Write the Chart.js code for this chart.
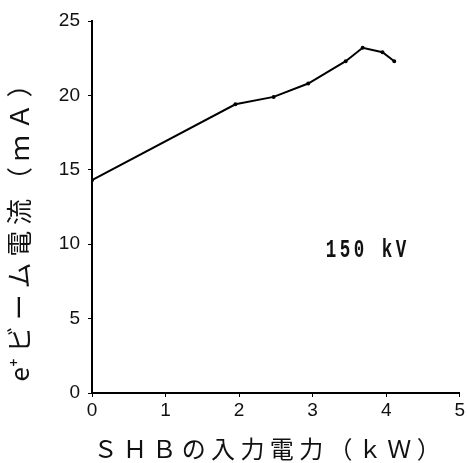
<!DOCTYPE html>
<html>
<head>
<meta charset="utf-8">
<script src="https://cdn.jsdelivr.net/npm/chart.js@4/dist/chart.umd.min.js"></script>
<style>
  html, body { margin: 0; padding: 0; background: #fff; }
  #wrap { width: 467px; height: 463px; }
</style>
</head>
<body>
<div id="wrap"><canvas id="chart" width="467" height="463"></canvas></div>
<script>
// SHB input power (kW) vs e+ beam current (mA)
const powerKW = [0, 1.95, 2.47, 2.94, 3.45, 3.68, 3.95, 4.11];
const beamMA = [14.3, 19.4, 19.9, 20.8, 22.3, 23.2, 22.9, 22.3];
const xTicks = [0, 1, 2, 3, 4, 5];
const yTicks = [0, 5, 10, 15, 20, 25];
// trailing blanks push the titles off-centre like the original
const xTitle = 'Ｓ Ｈ Ｂ の 入 力 電 力 （ ｋ Ｗ ）　 ';
const yTitle = 'e⁺ ビ ー ム 電 流 （ ｍ Ａ ）　　';
const noteText = '150 kV';
const notePos = { x: 3.75, y: 9.55 };

const points = powerKW.map((x, i) => ({ x: x, y: beamMA[i] }));

// draws the "150 kV" note through the scales
const notePlugin = {
    id: 'note',
    afterDatasetsDraw(chart) {
        const ctx = chart.ctx;
        const px = chart.scales.x.getPixelForValue(notePos.x);
        const py = chart.scales.y.getPixelForValue(notePos.y);
        ctx.save();
        ctx.translate(px, py);
        ctx.scale(0.7, 1);
        ctx.font = 'bold 25px "Liberation Mono"';
        ctx.letterSpacing = '5px';
        ctx.fillStyle = '#111';
        ctx.textAlign = 'center';
        ctx.textBaseline = 'middle';
        ctx.fillText(noteText, 0, 0);
        ctx.restore();
    }
};

const tickFont = { family: '"Liberation Sans", Arial, sans-serif', size: 19 };

new Chart(document.getElementById('chart'), {
    type: 'line',
    data: {
        datasets: [{
            data: points,
            borderColor: '#000',
            backgroundColor: '#000',
            borderWidth: 2,
            pointRadius: 1,
            tension: 0
        }]
    },
    options: {
        responsive: false,
        animation: false,
        layout: {
            autoPadding: false,
            padding: { top: 21, right: 4, left: 0, bottom: 0 }
        },
        plugins: {
            legend: { display: false },
            tooltip: { enabled: false }
        },
        scales: {
            x: {
                type: 'linear',
                min: 0,
                max: 5,
                afterBuildTicks: (axis) => { axis.ticks = xTicks.map(v => ({ value: v })); },
                afterFit: (axis) => { axis.height = 70; },
                border: { color: '#000', width: 2 },
                grid: { drawOnChartArea: false, color: '#000', tickLength: 4, lineWidth: 1 },
                ticks: { color: '#111', font: tickFont, padding: 2, maxRotation: 0 },
                title: {
                    display: true,
                    text: xTitle,
                    color: '#111',
                    font: { family: '"Noto Sans CJK JP"', size: 24 },
                    padding: { top: 8, bottom: 0 }
                }
            },
            y: {
                min: 0,
                max: 25,
                afterBuildTicks: (axis) => { axis.ticks = yTicks.map(v => ({ value: v })); },
                afterFit: (axis) => { axis.width = 92; },
                border: { color: '#000', width: 2 },
                grid: { drawOnChartArea: false, color: '#000', tickLength: 4, lineWidth: 1 },
                ticks: { color: '#111', font: tickFont, padding: 8 },
                title: {
                    display: true,
                    text: yTitle,
                    color: '#111',
                    font: { family: '"Noto Sans CJK JP"', size: 26 },
                    padding: { top: 4, bottom: 0 }
                }
            }
        }
    },
    plugins: [notePlugin]
});
</script>
</body>
</html>
